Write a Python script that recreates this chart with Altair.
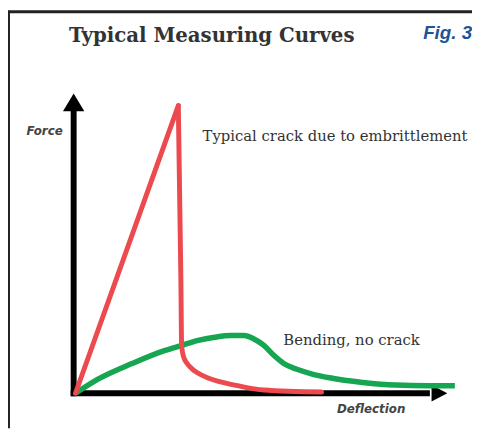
import altair as alt
import pandas as pd

# ---- data ----
red_x = [0.5, 28.5, 29.2, 29.4, 29.9, 30.9, 32.3, 33.6, 36.6, 40.0, 44.6, 51.8, 67.5]
red_y = [0.0, 98.6, 39.0, 16.4, 12.6, 10.2, 8.3, 7.1, 5.2, 3.9, 2.6, 1.1, 0.4]

green_x = [0.5, 7.0, 15.9, 24.9, 29.4, 33.9, 38.4, 42.8, 46.4, 49.1, 51.8, 54.5,
           57.2, 60.8, 65.2, 69.7, 78.7, 87.6, 96.6, 103.8]
green_y = [0.0, 5.1, 10.2, 14.7, 16.4, 18.1, 19.2, 19.8, 19.8, 18.6, 16.4, 13.0,
           10.2, 8.2, 6.5, 5.3, 3.7, 2.8, 2.6, 2.6]
red_peak_index = 1

# axis shafts (data units) and arrow-head positions
axis_x = [-0.8, 0.0]
axis_x2 = [97.0, 0.0]
axis_y = [0.0, -1.0]
axis_y2 = [0.0, 97.0]
arrow_up = (0.0, 99.7)
arrow_right = (99.6, 0.0)

# texts and their anchor positions (data units)
title_text = "Typical Measuring Curves"
title_pos = (37.6, 120.3)
fig_text = "Fig. 3"
fig_pos = (108.5, 121.3)
ylabel_text = "Force"
ylabel_pos = (-7.9, 89.8)
xlabel_text = "Deflection"
xlabel_pos = (81.0, -5.4)
crack_text = "Typical crack due to embrittlement"
crack_pos = (35.1, 88.2)
bend_text = "Bending, no crack"
bend_pos = (57.1, 18.1)

W, H = 372, 295.5
PAD = {"left": 66.5, "right": 31.5, "top": 92, "bottom": 35.5}
TOTAL_W = PAD["left"] + W + PAD["right"]
TOTAL_H = PAD["top"] + H + PAD["bottom"]

xs = alt.Scale(domain=[0, 100], nice=False, zero=False)
ys = alt.Scale(domain=[0, 100], nice=False, zero=False)


def X(f="x"):
    return alt.X(f"{f}:Q", scale=xs, axis=None)


def Y(f="y"):
    return alt.Y(f"{f}:Q", scale=ys, axis=None)


one = pd.DataFrame({"a": [0]})

frame_top = alt.Chart(one).mark_rule(color="#222222", strokeWidth=3).encode(
    x=alt.value(-PAD["left"]), x2=alt.value(TOTAL_W - PAD["left"]),
    y=alt.value(-PAD["top"] + 1))
frame_left = alt.Chart(one).mark_rule(color="#222222", strokeWidth=3).encode(
    x=alt.value(-PAD["left"] + 0.5),
    y=alt.value(-PAD["top"]), y2=alt.value(TOTAL_H - PAD["top"]))

axes_df = pd.DataFrame({"x": axis_x, "x2": axis_x2, "y": axis_y, "y2": axis_y2})
axes = alt.Chart(axes_df).mark_rule(color="#000000", strokeWidth=6, strokeCap="butt").encode(
    x=X(), x2="x2:Q", y=Y(), y2="y2:Q")

up = alt.Chart(pd.DataFrame({"x": [arrow_up[0]], "y": [arrow_up[1]]})).mark_point(
    shape="M0,-1L1.2,1L-1.2,1Z", size=324, filled=True, color="#000000", opacity=1).encode(
    x=X(), y=Y())
right = alt.Chart(pd.DataFrame({"x": [arrow_right[0]], "y": [arrow_right[1]]})).mark_point(
    shape="M1,0L-1,-1.05L-1,1.05Z", size=256, filled=True, color="#000000", opacity=1).encode(
    x=X(), y=Y())

green_df = pd.DataFrame({"x": green_x, "y": green_y, "i": list(range(len(green_x)))})
green = alt.Chart(green_df).mark_line(color="#16a550", strokeWidth=5.5,
                                      interpolate="monotone", clip=False).encode(
    x=X(), y=Y(), order="i:Q")

red_df = pd.DataFrame({"x": red_x, "y": red_y, "i": list(range(len(red_x)))})
red_up = alt.Chart(red_df.iloc[: red_peak_index + 1]).mark_line(
    color="#ec4a4f", strokeWidth=5, strokeJoin="round", strokeCap="round", clip=False).encode(
    x=X(), y=Y(), order="i:Q")
red_down = alt.Chart(red_df.iloc[red_peak_index:]).mark_line(
    color="#ec4a4f", strokeWidth=5, strokeJoin="round", strokeCap="round",
    interpolate="monotone", clip=False).encode(
    x=X(), y=Y(), order="i:Q")


def label(text, pos, **kw):
    df = pd.DataFrame({"x": [pos[0]], "y": [pos[1]], "t": [text]})
    return alt.Chart(df).mark_text(**kw).encode(x=X(), y=Y(), text="t:N")


texts = [
    label(title_text, title_pos, font="DejaVu Serif", fontWeight="bold", fontSize=20,
          color="#333333", align="center", baseline="alphabetic"),
    label(fig_text, fig_pos, font="Liberation Sans", fontWeight="bold", fontStyle="italic",
          fontSize=19, color="#1d5592", align="right", baseline="alphabetic"),
    label(ylabel_text, ylabel_pos, font="DejaVu Sans", fontWeight="bold", fontStyle="italic",
          fontSize=12, color="#444444", align="center", baseline="middle"),
    label(xlabel_text, xlabel_pos, font="DejaVu Sans", fontWeight="bold", fontStyle="italic",
          fontSize=12, color="#444444", align="center", baseline="middle"),
    label(crack_text, crack_pos, font="DejaVu Serif", fontSize=15,
          color="#333333", align="left", baseline="middle"),
    label(bend_text, bend_pos, font="DejaVu Serif", fontSize=15,
          color="#333333", align="left", baseline="middle"),
]

chart = alt.layer(frame_top, frame_left, axes, up, right, green, red_up, red_down,
                  *texts).properties(
    width=W, height=H, padding=PAD, autosize="none", background="white"
).configure_view(stroke=None)

chart.save("out.html", embed_options={"renderer": "svg", "actions": False})
